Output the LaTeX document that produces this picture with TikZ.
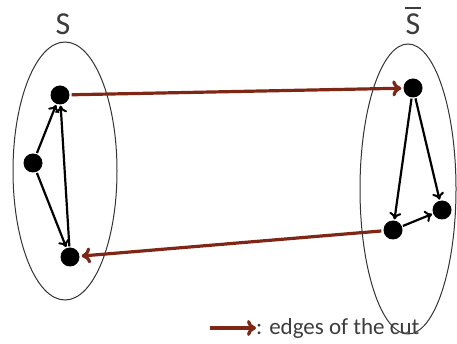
\documentclass[tikz,border=0pt]{standalone}
\usepackage{fontspec}
\setmainfont{Carlito}
\usetikzlibrary{arrows.meta}
\definecolor{cutbrown}{RGB}{128,38,20}
\definecolor{labelgray}{RGB}{60,60,60}

\begin{document}
\begin{tikzpicture}[x=1pt,y=-1pt,
  vertex/.style={circle,fill=black,inner sep=0pt,minimum size=19pt},
  setname/.style={font=\fontsize{32}{36}\selectfont,text=labelgray,inner sep=0pt},
  inner/.style={line width=2.2pt,-{To[length=7pt,width=12pt,line width=2pt]},shorten >=1pt,shorten <=1pt},
  cutedge/.style={line width=3.2pt,draw=cutbrown,-{To[length=9pt,width=16pt]},shorten >=2pt,shorten <=2pt}]

\useasboundingbox (0,0) rectangle (457,344);

% S side
\draw[line width=1pt,draw=black!80] (65,171) ellipse [x radius=52,y radius=129];
\node[setname] (S) at (63,24) {S};
\node[vertex] (a) at (60,95) {};
\node[vertex] (b) at (33,163) {};
\node[vertex] (c) at (70,257) {};

\draw[inner] (b) -- (a);
\draw[inner] (b) -- (c);
\draw[inner] (c) -- (a);

% complement side
\draw[line width=1pt,draw=black!80] (408,189) ellipse [x radius=48,y radius=145];
\node[setname] (Sbar) at (413,24) {S};
\draw[line width=1.8pt,draw=labelgray] ([yshift=5pt]Sbar.north west) -- ([yshift=5pt]Sbar.north east);
\node[vertex] (d) at (413,88) {};
\node[vertex] (e) at (442,210) {};
\node[vertex] (f) at (393,230) {};

\draw[inner] (d) -- (f);
\draw[inner] (d) -- (e);
\draw[inner] (f) -- (e);

% cut edges
\draw[cutedge] (a) -- (d);
\draw[cutedge] (f) -- (c);

% legend
\coordinate (legstart) at (208,328);
\node[anchor=west,text=labelgray,font=\fontsize{23}{26}\selectfont,inner sep=0pt] (legtext) at (256,328) {: edges of the cut};
\draw[cutedge,shorten >=0pt] (legstart) -- (legtext.west);

\end{tikzpicture}
\end{document}
